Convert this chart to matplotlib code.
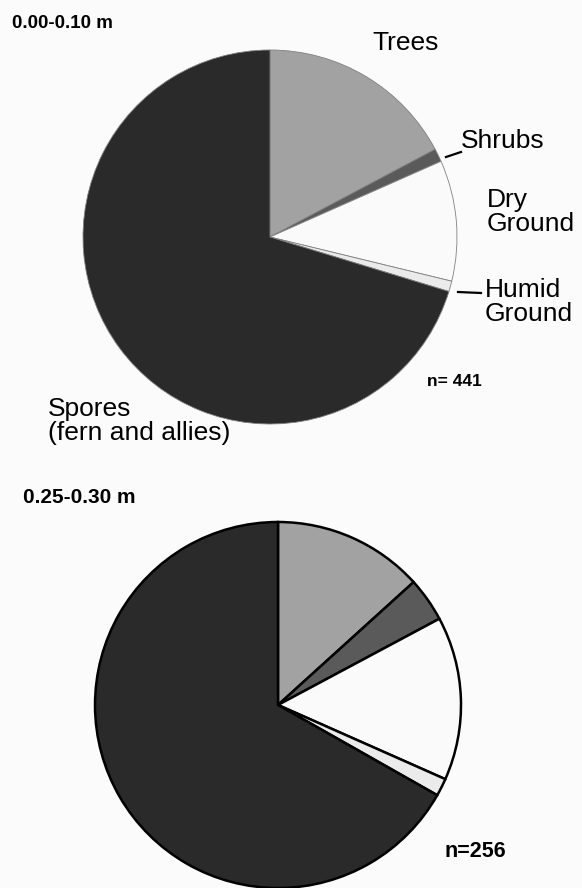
import matplotlib
matplotlib.use("Agg")
from matplotlib import pyplot as plt

plt.rcParams['font.family'] = ['Liberation Sans', 'DejaVu Sans']

#datos
CATEGORIAS = ["Trees", "Shrubs", "Dry Ground", "Humid Ground", "Spores (fern and allies)"]
CONTEOS_SUPERIOR = [76, 5, 46, 4, 310]
CONTEOS_INFERIOR = [34, 10, 37, 4, 171]
TITULO_SUPERIOR = "0.00-0.10 m"
TITULO_INFERIOR = "0.25-0.30 m"
N_SUPERIOR = "n= 441"
N_INFERIOR = "n=256"
COLORES = ["#a2a2a2", "#5a5a5a", "#fafafa", "#ebebeb", "#2a2a2a"]

ANCHO, ALTO = 582, 888
FONDO = "#fbfbfb"

fig = plt.figure(figsize=(ANCHO / 100, ALTO / 100), dpi=100, facecolor=FONDO)


def ejes_pastel(cx, cy, r):
    # ejes cuadrados en pixeles, centro (cx, cy) desde arriba a la izquierda
    ax = fig.add_axes([(cx - r) / ANCHO, (ALTO - cy - r) / ALTO, 2 * r / ANCHO, 2 * r / ALTO])
    return ax


def texto(x, y, s, **kw):
    fig.text(x / ANCHO, 1 - y / ALTO, s, **kw)


#pastel superior
ax1 = ejes_pastel(270, 237, 187)
cunas1, _ = ax1.pie(CONTEOS_SUPERIOR, colors=COLORES, startangle=90, counterclock=False,
                    wedgeprops=dict(edgecolor="#808080", linewidth=0.6))
ax1.set_xlim(-1, 1)
ax1.set_ylim(-1, 1)
ax1.set_aspect("auto")
for c in cunas1:
    c.set_clip_on(False)

#pastel inferior
ax2 = ejes_pastel(278, 705, 183)
cunas2, _ = ax2.pie(CONTEOS_INFERIOR, colors=COLORES, startangle=90, counterclock=False,
                    wedgeprops=dict(edgecolor="black", linewidth=1.8))
ax2.set_xlim(-1, 1)
ax2.set_ylim(-1, 1)
ax2.set_aspect("auto")
for c in cunas2:
    c.set_clip_on(False)

#etiquetas
texto(12, 24, TITULO_SUPERIOR, fontsize=13.5, fontweight="bold", va="center")
texto(23, 497, TITULO_INFERIOR, fontsize=15, fontweight="bold", va="center")

texto(372, 43, "Trees", fontsize=19, va="center")
texto(461, 141, "Shrubs", fontsize=19, va="center")
texto(487, 212, "Dry\nGround", fontsize=19, va="center", linespacing=1.0)
texto(485, 302, "Humid\nGround", fontsize=19, va="center", linespacing=1.0)
texto(48, 421, "Spores\n(fern and allies)", fontsize=19, va="center", linespacing=1.0)

texto(427, 381, N_SUPERIOR, fontsize=12.5, fontweight="bold", va="center")
texto(444, 851, N_INFERIOR, fontsize=15.5, fontweight="bold", va="center")

#lineas guia
fig.add_artist(plt.Line2D([446 / ANCHO, 461 / ANCHO], [1 - 157 / ALTO, 1 - 152 / ALTO],
                          color="black", linewidth=1.6))
fig.add_artist(plt.Line2D([458 / ANCHO, 481 / ANCHO], [1 - 292 / ALTO, 1 - 293 / ALTO],
                          color="black", linewidth=1.6))

plt.savefig("out.png", dpi=100, facecolor=FONDO)
